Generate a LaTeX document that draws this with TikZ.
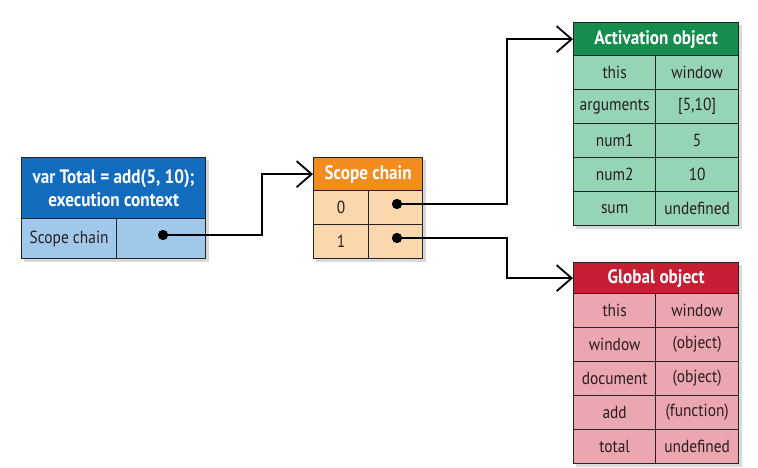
\documentclass[tikz,border=0pt]{standalone}
\usepackage{fontspec}
\setmainfont{PT Sans}[FakeStretch=0.88]
\usetikzlibrary{arrows.meta,backgrounds}
\definecolor{bluehead}{RGB}{18,108,190}
\definecolor{bluebody}{RGB}{160,200,235}
\definecolor{orangehead}{RGB}{242,140,30}
\definecolor{orangebody}{RGB}{250,215,172}
\definecolor{greenhead}{RGB}{22,140,78}
\definecolor{greenbody}{RGB}{150,212,182}
\definecolor{redhead}{RGB}{200,30,52}
\definecolor{redbody}{RGB}{236,166,176}
\definecolor{bordercol}{RGB}{35,35,35}
\definecolor{textcol}{RGB}{40,30,30}
\tikzset{
  cell/.style={draw=bordercol, line width=1.3pt, anchor=north west, inner sep=0pt,
    font=\fontsize{17.5}{20}\selectfont, text=textcol},
  headcell/.style={cell, font=\bfseries\fontsize{19.5}{23}\selectfont, text=white, align=center},
  dotnode/.style={circle, fill=black, inner sep=0pt, minimum size=10pt},
  conn/.style={line width=1.8pt, -{Straight Barb[length=15pt,width=26pt]}},
  shade/.style={fill=black, opacity=0.15},
}
\begin{document}
\begin{tikzpicture}[x=1pt,y=-1pt]
\useasboundingbox (0,0) rectangle (758,468);

% execution context
\node[headcell, fill=bluehead, minimum width=184pt, minimum height=61pt] (exh) at (21,157) {var Total = add(5, 10);\\execution context};
\node[cell, fill=bluebody, minimum width=95pt, minimum height=40pt] (exk) at (21,218) {Scope chain};
\node[cell, fill=bluebody, minimum width=89pt, minimum height=40pt] (exv) at (116,218) {};

% scope chain
\node[headcell, fill=orangehead, minimum width=109pt, minimum height=33pt] (sch) at (313,157) {Scope chain};
\node[cell, fill=orangebody, minimum width=55pt, minimum height=34pt] (s0k) at (313,190) {0};
\node[cell, fill=orangebody, minimum width=54pt, minimum height=34pt] (s0v) at (368,190) {};
\node[cell, fill=orangebody, minimum width=55pt, minimum height=34pt] (s1k) at (313,224) {1};
\node[cell, fill=orangebody, minimum width=54pt, minimum height=34pt] (s1v) at (368,224) {};

% activation object
\node[headcell, fill=greenhead, minimum width=165pt, minimum height=33pt] (acth) at (573,22) {Activation object};
\foreach \k/\v [count=\i from 0] in {this/window, arguments/{[5,10]}, num1/5, num2/10, sum/undefined} {
  \node[cell, fill=greenbody, minimum width=82pt, minimum height=34pt] (ak\i) at (573,55+34*\i) {\k};
  \node[cell, fill=greenbody, minimum width=83pt, minimum height=34pt] (av\i) at (655,55+34*\i) {\v};
}

% global object
\node[headcell, fill=redhead, minimum width=165pt, minimum height=31pt] (glh) at (573,262) {Global object};
\foreach \k/\v [count=\i from 0] in {this/window, window/(object), document/(object), add/(function), total/undefined} {
  \node[cell, fill=redbody, minimum width=82pt, minimum height=34pt] (gk\i) at (573,293+34*\i) {\k};
  \node[cell, fill=redbody, minimum width=83pt, minimum height=34pt] (gv\i) at (655,293+34*\i) {\v};
}

% shadows and background
\begin{scope}[on background layer]
  \fill[white] (0,0) rectangle (758,468);
  \fill[shade] ([shift={(3,3)}]exh.north west) rectangle ([shift={(3,3)}]exv.south east);
  \fill[shade] ([shift={(3,3)}]sch.north west) rectangle ([shift={(3,3)}]s1v.south east);
  \fill[shade] ([shift={(3,3)}]acth.north west) rectangle ([shift={(3,3)}]av4.south east);
  \fill[shade] ([shift={(3,3)}]glh.north west) rectangle ([shift={(3,3)}]gv4.south east);
\end{scope}

% dots
\node[dotnode] (exd) at (163,235) {};
\node[dotnode] (d0) at (397,204) {};
\node[dotnode] (d1) at (397,238) {};

% connectors
\draw[conn] (exd.center) -- ++(99,0) |- (sch.west);
\draw[conn] (d0.center) -- ++(110,0) |- (acth.west);
\draw[conn] (d1.center) -- ++(110,0) |- (glh.west);
\node[dotnode] at (exd) {};
\node[dotnode] at (d0) {};
\node[dotnode] at (d1) {};
\end{tikzpicture}
\end{document}
